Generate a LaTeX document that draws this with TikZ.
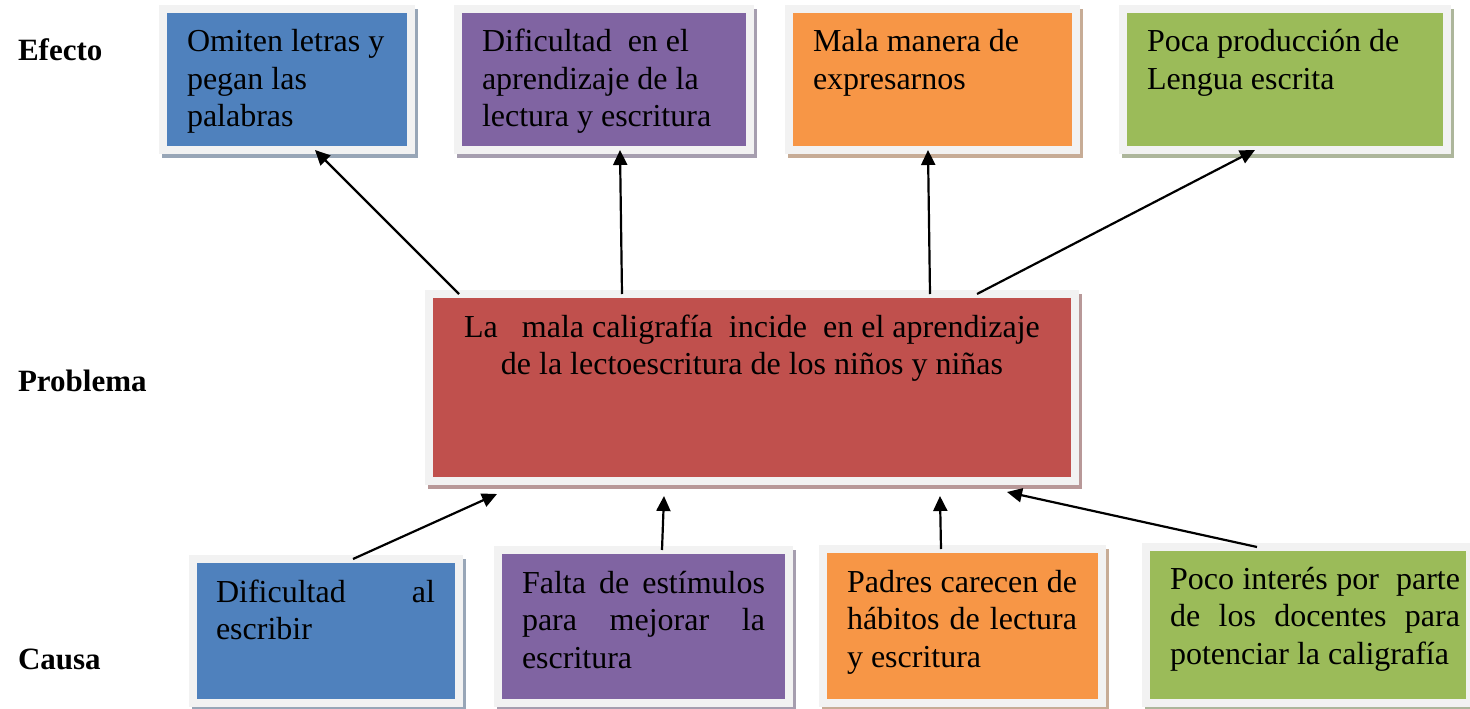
\documentclass[tikz,border=0pt]{standalone}
\usepackage{fontspec}
\setmainfont{Liberation Serif}
\usetikzlibrary{arrows.meta}
\definecolor{blueC}{HTML}{4F81BD}
\definecolor{purpleC}{HTML}{8064A2}
\definecolor{orangeC}{HTML}{F79646}
\definecolor{greenC}{HTML}{9BBB59}
\definecolor{redC}{HTML}{C0504D}
\definecolor{frameC}{HTML}{F2F2F2}
\newcommand\bodyfont{\fontsize{32}{37.5}\selectfont}
\newcommand\jline[1]{\makebox[\linewidth][s]{#1}}
\tikzset{
  cbox/.style={rectangle, draw=frameC, line width=8pt, inner sep=0pt, outer sep=0pt, fill=#1,
    preaction={fill=#1!40!gray!70!white, draw=#1!40!gray!70!white, line width=8pt,
      transform canvas={shift={(3pt,-4pt)}}}},
  txt/.style={inner sep=0pt, outer sep=0pt, anchor=base west, font=\bodyfont, text=black},
  lab/.style={inner sep=0pt, outer sep=0pt, anchor=base west, font=\fontsize{31}{37}\selectfont\bfseries},
  arr/.style={line width=2.2pt, draw=black, -{Triangle[length=15pt,width=14pt]}}
}
\begin{document}
\begin{tikzpicture}[x=1pt,y=-1pt]
\useasboundingbox (0,0) rectangle (1470,709);
% effect boxes
\node[cbox=blueC, minimum width=248pt, minimum height=141pt] (e1) at (287,79.5) {};
\node[cbox=purpleC, minimum width=292pt, minimum height=141pt] (e2) at (604,79.5) {};
\node[cbox=orangeC, minimum width=287pt, minimum height=141pt] (e3) at (932.5,79.5) {};
\node[cbox=greenC, minimum width=324pt, minimum height=141pt] (e4) at (1285,79.5) {};
% problem box
\node[cbox=redC, minimum width=646pt, minimum height=187pt] (prob) at (752,387.5) {};
% cause boxes
\node[cbox=blueC, minimum width=266pt, minimum height=144pt] (c1) at (326,631) {};
\node[cbox=purpleC, minimum width=291pt, minimum height=153pt] (c2) at (643.5,626.5) {};
\node[cbox=orangeC, minimum width=279pt, minimum height=154pt] (c3) at (962.5,626) {};
\node[cbox=greenC, minimum width=324pt, minimum height=156pt] (c4) at (1308,625) {};
% texts
\node[txt] (e1t) at (187,52) {\parbox[t]{230pt}{Omiten letras y\\pegan las\\palabras}};
\node[txt] (e2t) at (482,52) {\parbox[t]{270pt}{Dificultad~ en el\\aprendizaje de la\\lectura y escritura}};
\node[txt] (e3t) at (813,52) {\parbox[t]{260pt}{Mala manera de\\expresarnos}};
\node[txt] (e4t) at (1147,52) {\parbox[t]{300pt}{Poca producción de\\Lengua escrita}};
\node[txt, anchor=base] (probt) at (752,337) {\parbox[t]{630pt}{\centering La~~ mala caligrafía~ incide~ en el aprendizaje\\de la lectoescritura de los niños y niñas}};
\node[txt] (c1t) at (216,602) {\parbox[t]{219pt}{\jline{Dificultad al}\\escribir}};
\node[txt] (c2t) at (522,593) {\parbox[t]{243pt}{\jline{Falta de estímulos}\\\jline{para mejorar la}\\escritura}};
\node[txt] (c3t) at (847,592) {\parbox[t]{230pt}{\jline{Padres carecen de}\\\jline{hábitos de lectura}\\y escritura}};
\node[txt] (c4t) at (1170,589) {\parbox[t]{290pt}{\jline{Poco interés por~ parte}\\\jline{de los docentes para}\\potenciar la caligrafía}};
% row labels
\node[lab] (lefecto) at (18,60) {Efecto};
\node[lab] (lproblema) at (18,391) {Problema};
\node[lab] (lcausa) at (18,669) {Causa};
% arrows problem -> effects
\draw[arr] ([xshift=30pt]prob.north west) -- ([xshift=152pt]e1.south west);
\draw[arr] ([xshift=193pt]prob.north west) -- ([xshift=162pt]e2.south west);
\draw[arr] ([xshift=501pt]prob.north west) -- ([xshift=139pt]e3.south west);
\draw[arr] ([xshift=548pt]prob.north west) -- ([xshift=132pt]e4.south west);
% arrows causes -> problem
\draw[arr] ([xshift=160pt]c1.north west) -- ([xshift=68pt,yshift=-13pt]prob.south west);
\draw[arr] ([xshift=164pt]c2.north west) -- ([xshift=235pt,yshift=-15pt]prob.south west);
\draw[arr] ([xshift=118pt]c3.north west) -- ([xshift=511pt,yshift=-15pt]prob.south west);
\draw[arr] ([xshift=111pt]c4.north west) -- ([xshift=578pt,yshift=-11pt]prob.south west);
\end{tikzpicture}
\end{document}
